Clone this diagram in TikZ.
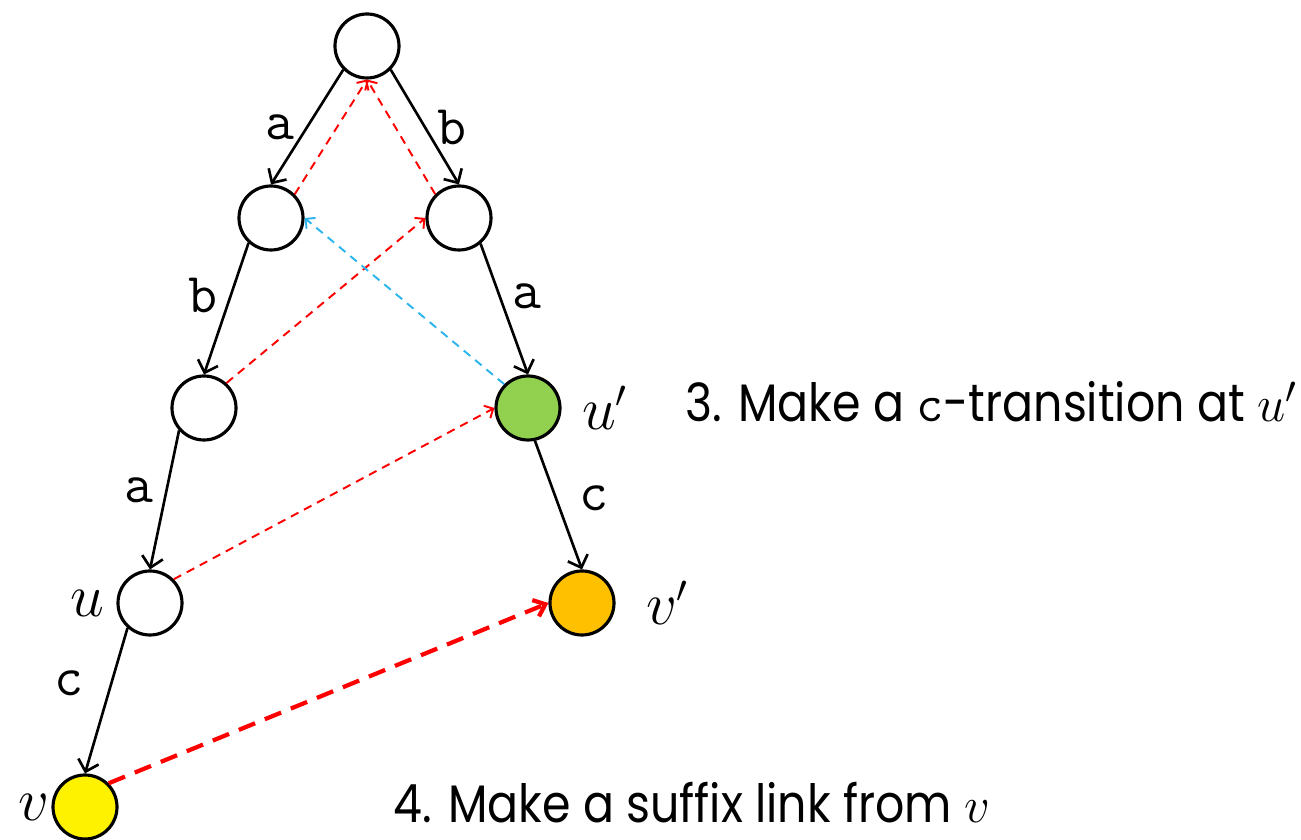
\documentclass[tikz,border=0pt]{standalone}
\usepackage{fontspec}
\usepackage{xcolor}
\usepackage{tikz}
\usetikzlibrary{arrows.meta,positioning}
\newfontfamily\notefont{Poppins}[FakeStretch=0.87]
\definecolor{ugreen}{HTML}{92D050}
\definecolor{vorange}{HTML}{FFC000}
\definecolor{linkblue}{HTML}{2CB5EC}
\begin{document}
\begin{tikzpicture}[
  font=\fontsize{16}{19}\selectfont,
  state/.style={draw,circle,line width=0.9pt,minimum size=0.64cm,inner sep=0pt},
  trans/.style={-{Straight Barb[length=3pt,width=6pt]},line width=0.75pt},
  slink/.style={-{Straight Barb[length=2pt,width=4pt]},red,line width=0.55pt,dash pattern=on 2.4pt off 1.8pt},
  newlink/.style={-{Straight Barb[length=3pt,width=5pt]},red,line width=1.2pt,dash pattern=on 5pt off 3pt},
  lab/.style={font=\fontsize{16}{19}\ttfamily}
]
\useasboundingbox (0,0) rectangle (13.01,8.40);
% trie nodes
\node[state] (root) at (3.67,7.94) {};
\node[state] (a) at (2.71,6.22) {};
\node[state] (b) at (4.59,6.22) {};
\node[state] (ab) at (2.04,4.32) {};
\node[state,fill=ugreen,label={[label distance=0.8mm]right:$u'$}] (up) at (5.28,4.32) {};
\node[state,label=left:$u$] (u) at (1.50,2.37) {};
\node[state,fill=vorange,label={[label distance=1.8mm]right:$v'$}] (vp) at (5.82,2.37) {};
\node[state,fill=yellow,label={[label distance=-1mm]left:$v$}] (v) at (0.85,0.33) {};
% transitions
\draw[trans] (root.225) -- node[lab,left,pos=0.5] {a} (a.north);
\draw[trans] (root.315) -- node[lab,right,pos=0.5] {b} (b.north);
\draw[trans] (a.228) -- node[lab,left,pos=0.4] {b} (ab.north);
\draw[trans] (b.310) -- node[lab,right,pos=0.4] {a} (up.north);
\draw[trans] (ab.222) -- node[lab,left,pos=0.43] {a} (u.north);
\draw[trans] (up.282) -- node[lab,right,pos=0.45,xshift=1mm] {c} (vp.north);
\draw[trans] (u.228) -- node[lab,left,pos=0.38,xshift=-1.5mm] {c} (v.north);
% suffix links
\draw[slink] (a.45) -- (root.south);
\draw[slink] (b.135) -- (root.south);
\draw[slink] (ab.48) -- (b.west);
\draw[slink] (u.45) -- (up.west);
\draw[slink,linkblue] (up.135) -- (a.east);
\draw[newlink] (v.45) -- (vp.west);
% steps
\node[anchor=base west] (step3) at (6.73,4.18) {\notefont\fontsize{15}{18}\selectfont 3. Make a {\ttfamily c}-transition at $u'$};
\node[anchor=base west] (step4) at (3.81,0.17) {\notefont\fontsize{15}{18}\selectfont 4. Make a suffix link from $v$};
\end{tikzpicture}
\end{document}
